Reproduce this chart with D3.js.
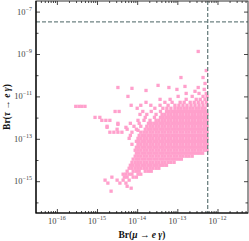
<!DOCTYPE html>
<html>
<head>
<meta charset="utf-8">
<script src="https://cdn.jsdelivr.net/npm/d3@7"></script>
<style>
  body { margin: 0; background: #fff; }
  svg { display: block; }
</style>
</head>
<body>
<div id="chart"></div>
<script>
// exponents (log10)
// isolated points: [log10 Br(mu->e gamma), log10 Br(tau->e gamma)]
var sparsePoints = [
  [-12.48, -8.88], [-12.28, -9.78], [-12.36, -10.11], [-12.91, -10.11], [-12.31, -10.39],
  [-12.48, -10.58], [-14.48, -10.58], [-14.13, -10.62], [-13.78, -10.72], [-13.48, -10.48],
  [-13.21, -10.58], [-13.01, -10.67], [-12.81, -10.53], [-12.56, -10.76], [-12.33, -10.67],
  [-15.53, -11.47], [-15.45, -11.47], [-15.38, -11.47], [-15.30, -11.47],
  [-14.75, -12.46], [-14.48, -12.32], [-14.28, -12.46], [-13.98, -12.60]
];

// rows of the dense cloud: one tau exponent per row, mu exponents along it
var tauRows = [-10.86, -11.0, -11.14, -11.28, -11.42, -11.56, -11.71, -11.85, -11.99, -12.13,
  -12.27, -12.41, -12.55, -12.69, -12.84, -12.98, -13.12, -13.26, -13.40, -13.54,
  -13.68, -13.82, -13.96, -14.11, -14.25, -14.39, -14.53, -14.67, -14.81, -14.95,
  -15.09, -15.24, -15.33, -15.47];

var muRows = [
  [-12.46, -12.28, -12.78],
  [-14.23, -12.98, -12.63, -12.36, -12.26],
  [-13.43, -13.18, -12.78, -12.53, -12.43, -12.31],
  [-13.78, -13.31, -13.13, -12.93, -12.83, -12.68, -12.58, -12.48, -12.38, -12.28],
  [-14.15, -13.91, -13.66, -13.43, -13.23, -13.06, -12.96, -12.86, -12.76, -12.66, -12.56, -12.46, -12.36, -12.26],
  [-14.0, -13.56, -13.36, -13.26, -13.16, -13.06, -12.98, -12.91, -12.83, -12.76, -12.68, -12.61, -12.53, -12.46, -12.38, -12.31],
  [-12.30, -12.37, -12.45, -12.52, -12.60, -12.67, -12.75, -12.82, -12.90, -12.97, -13.05, -13.12, -13.20, -13.27, -13.42, -13.65, -13.86, -14.45, -14.55],
  [-12.26, -12.33, -12.41, -12.48, -12.56, -12.63, -12.71, -12.78, -12.86, -12.93, -13.01, -13.08, -13.16, -13.23, -13.31, -13.38, -13.53, -13.76, -13.93],
  [-12.30, -12.37, -12.45, -12.52, -12.60, -12.67, -12.75, -12.82, -12.90, -12.97, -13.05, -13.12, -13.20, -13.27, -13.35, -13.42, -13.57, -13.80, -14.93, -15.05],
  [-12.26, -12.33, -12.41, -12.48, -12.56, -12.63, -12.71, -12.78, -12.86, -12.93, -13.01, -13.08, -13.16, -13.23, -13.31, -13.38, -13.46, -13.53, -13.68, -13.83, -13.98, -14.68, -14.78, -14.88],
  [-12.30, -12.37, -12.45, -12.52, -12.60, -12.67, -12.75, -12.82, -12.90, -12.97, -13.05, -13.12, -13.20, -13.27, -13.35, -13.42, -13.50, -13.57, -13.65, -13.72, -13.95, -14.17, -14.48],
  [-12.26, -12.33, -12.41, -12.48, -12.56, -12.63, -12.71, -12.78, -12.86, -12.93, -13.01, -13.08, -13.16, -13.23, -13.31, -13.38, -13.46, -13.53, -13.61, -13.68, -13.76, -13.91, -14.08, -14.75],
  [-12.30, -12.37, -12.45, -12.52, -12.60, -12.67, -12.75, -12.82, -12.90, -12.97, -13.05, -13.12, -13.20, -13.27, -13.35, -13.42, -13.50, -13.57, -13.65, -13.72, -13.80, -14.02, -14.25, -14.50],
  [-12.26, -12.33, -12.41, -12.48, -12.56, -12.63, -12.71, -12.78, -12.86, -12.93, -13.01, -13.08, -13.16, -13.23, -13.31, -13.38, -13.46, -13.53, -13.61, -13.68, -13.76, -13.83, -13.91, -14.13, -14.38, -14.48, -14.58, -14.68],
  [-12.30, -12.37, -12.45, -12.52, -12.60, -12.67, -12.75, -12.82, -12.90, -12.97, -13.05, -13.12, -13.20, -13.27, -13.35, -13.42, -13.50, -13.57, -13.65, -13.72, -13.80, -13.87, -13.95, -14.17],
  [-12.26, -12.33, -12.41, -12.48, -12.56, -12.63, -12.71, -12.78, -12.86, -12.93, -13.01, -13.08, -13.16, -13.23, -13.31, -13.38, -13.46, -13.53, -13.61, -13.68, -13.76, -13.83, -13.91, -13.98, -14.20],
  [-12.30, -12.37, -12.45, -12.52, -12.60, -12.67, -12.75, -12.82, -12.90, -12.97, -13.05, -13.12, -13.20, -13.27, -13.35, -13.42, -13.50, -13.57, -13.65, -13.72, -13.80, -13.87, -13.95, -14.02],
  [-12.26, -12.33, -12.41, -12.48, -12.56, -12.63, -12.71, -12.78, -12.86, -12.93, -13.01, -13.08, -13.16, -13.23, -13.31, -13.38, -13.46, -13.53, -13.61, -13.68, -13.76, -13.83, -13.91, -13.98, -14.13],
  [-12.30, -12.37, -12.45, -12.52, -12.60, -12.67, -12.75, -12.82, -12.90, -12.97, -13.05, -13.12, -13.20, -13.27, -13.35, -13.42, -13.50, -13.57, -13.65, -13.72, -13.80, -13.87, -13.95, -14.02],
  [-12.26, -12.33, -12.41, -12.48, -12.56, -12.63, -12.71, -12.78, -12.86, -12.93, -13.01, -13.08, -13.16, -13.23, -13.31, -13.38, -13.46, -13.53, -13.61, -13.68, -13.76, -13.83, -13.91, -13.98, -14.05],
  [-12.37, -12.45, -12.52, -12.60, -12.67, -12.75, -12.82, -12.90, -12.97, -13.05, -13.12, -13.20, -13.27, -13.35, -13.42, -13.50, -13.57, -13.65, -13.72, -13.80, -13.87, -13.95, -14.02],
  [-12.63, -12.71, -12.78, -12.86, -12.93, -13.01, -13.08, -13.16, -13.23, -13.31, -13.38, -13.46, -13.53, -13.61, -13.68, -13.76, -13.83, -13.91, -13.98, -14.05],
  [-12.90, -12.97, -13.05, -13.12, -13.20, -13.27, -13.35, -13.42, -13.50, -13.57, -13.65, -13.72, -13.80, -13.87, -13.95, -14.02, -14.10],
  [-13.08, -13.16, -13.23, -13.31, -13.38, -13.46, -13.53, -13.61, -13.68, -13.76, -13.83, -13.91, -13.98, -14.05, -14.13],
  [-13.27, -13.35, -13.42, -13.50, -13.57, -13.65, -13.72, -13.80, -13.87, -13.95, -14.02, -14.10, -14.17],
  [-13.46, -13.53, -13.61, -13.68, -13.76, -13.83, -13.91, -13.98, -14.05, -14.13, -14.20],
  [-13.65, -13.72, -13.80, -13.95, -14.02, -14.10, -14.25],
  [-13.91, -13.98, -14.13, -14.20, -14.28, -14.35],
  [-14.02, -14.10, -14.25, -14.32, -14.63],
  [-14.20, -14.35, -14.50, -14.80],
  [-14.28, -14.43, -14.73],
  [-14.25],
  [-14.15],
  [-14.65]
];

var xMajor = [-16, -15, -14, -13, -12];
var yMajor = [-15, -13, -11, -9, -7];
var muLimit = 5.7e-13;   // vertical dashed line
var tauLimit = 3.3e-8;   // horizontal dashed line

var W = 249, H = 241;
var pl = 36, pr = 248, pt = 1, pb = 213;

var svg = d3.select("#chart").append("svg").attr("width", W).attr("height", H);

var x = d3.scaleLog().domain([Math.pow(10, -16.52), Math.pow(10, -11.24)]).range([pl, pr]);
var y = d3.scaleLog().domain([Math.pow(10, -16.5), Math.pow(10, -6.5)]).range([pb, pt]);

var points = sparsePoints.map(function(p) { return {mu: Math.pow(10, p[0]), tau: Math.pow(10, p[1])}; });
tauRows.forEach(function(t, i) {
  muRows[i].forEach(function(m) { points.push({mu: Math.pow(10, m), tau: Math.pow(10, t)}); });
});

var ms = 3.3;
svg.append("g").selectAll("rect")
  .data(points)
  .enter().append("rect")
  .attr("x", function(d) { return x(d.mu) - ms / 2; })
  .attr("y", function(d) { return y(d.tau) - ms / 2; })
  .attr("width", ms)
  .attr("height", ms)
  .style("fill", "#ffa0cc");

// dashed limits
svg.append("line")
  .attr("x1", x(muLimit)).attr("x2", x(muLimit))
  .attr("y1", pt).attr("y2", pb)
  .style("stroke", "#6e8282").style("stroke-width", 1.3).style("stroke-dasharray", "4,2");
svg.append("line")
  .attr("x1", pl).attr("x2", pr)
  .attr("y1", y(tauLimit)).attr("y2", y(tauLimit))
  .style("stroke", "#6e8282").style("stroke-width", 1.3).style("stroke-dasharray", "4,2");

// minor tick values
var xMinor = [];
for (var e = -17; e <= -12; e++) {
  for (var k = 2; k <= 9; k++) {
    var v = k * Math.pow(10, e);
    if (v > x.domain()[0] && v < x.domain()[1]) xMinor.push(v);
  }
}
var yMinor = [-16, -14, -12, -10, -8].map(function(e) { return Math.pow(10, e); });
var xMaj = xMajor.map(function(e) { return Math.pow(10, e); });
var yMaj = yMajor.map(function(e) { return Math.pow(10, e); });

function tickAxis(axisFn, scale, vals, size, tx, ty) {
  var g = svg.append("g").attr("transform", "translate(" + tx + "," + ty + ")")
    .call(axisFn(scale).tickValues(vals).tickSize(size).tickFormat(""));
  g.select(".domain").remove();
  g.selectAll("line").style("stroke", "#333").style("stroke-width", 0.9);
}
tickAxis(d3.axisBottom, x, xMaj, -4, 0, pb);
tickAxis(d3.axisBottom, x, xMinor, -2, 0, pb);
tickAxis(d3.axisTop, x, xMaj, -4, 0, pt);
tickAxis(d3.axisTop, x, xMinor, -2, 0, pt);
tickAxis(d3.axisLeft, y, yMaj, -4, pl, 0);
tickAxis(d3.axisLeft, y, yMinor, -2.5, pl, 0);
tickAxis(d3.axisRight, y, yMaj, -4, pr, 0);
tickAxis(d3.axisRight, y, yMinor, -2.5, pr, 0);

// frame
svg.append("rect")
  .attr("x", pl).attr("y", pt)
  .attr("width", pr - pl).attr("height", pb - pt)
  .style("fill", "none").style("stroke", "#333").style("stroke-width", 1);
svg.append("path")
  .attr("d", "M" + pl + "," + pt + "V" + pb + "H" + pr)
  .style("fill", "none").style("stroke", "#000").style("stroke-width", 1.2);

// tick labels
var font = "'Liberation Serif', 'DejaVu Serif', serif";
xMajor.forEach(function(e) {
  var t = svg.append("text")
    .attr("x", x(Math.pow(10, e))).attr("y", 224)
    .style("text-anchor", "middle").style("font-family", font)
    .style("font-size", "8.5px").style("fill", "#444");
  t.append("tspan").text("10");
  t.append("tspan").attr("dy", -4).style("font-size", "6px").text("\u2212" + (-e));
});
yMajor.forEach(function(e) {
  var t = svg.append("text")
    .attr("x", 32).attr("y", y(Math.pow(10, e)) + 3)
    .style("text-anchor", "end").style("font-family", font)
    .style("font-size", "8.5px").style("fill", "#444");
  t.append("tspan").text("10");
  t.append("tspan").attr("dy", -4).style("font-size", "6px").text("\u2212" + (-e));
});

// axis titles
function title(sel, greek) {
  sel.style("font-family", font).style("font-size", "9.5px").style("font-weight", "bold").style("fill", "#111");
  sel.append("tspan").text("Br(");
  sel.append("tspan").style("font-style", "italic").text(greek);
  sel.append("tspan").text(" \u2192 ");
  sel.append("tspan").style("font-style", "italic").text("e \u03b3");
  sel.append("tspan").text(")");
}
title(svg.append("text").attr("x", (pl + pr) / 2).attr("y", 238).style("text-anchor", "middle"), "\u03bc");
title(svg.append("text").attr("transform", "translate(10," + ((pt + pb) / 2) + ") rotate(-90)").style("text-anchor", "middle"), "\u03c4");
</script>
</body>
</html>
